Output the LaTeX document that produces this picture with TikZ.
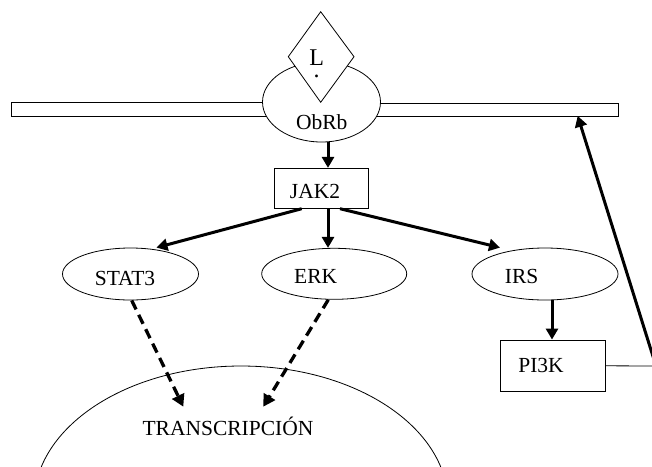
\documentclass[tikz,border=0pt]{standalone}
\usepackage{fontspec}
\setmainfont{Liberation Serif}
\usetikzlibrary{shapes.geometric,arrows.meta,calc}
\begin{document}
\begin{tikzpicture}[x=1pt,y=-1pt,
  thin line/.style={draw=black,line width=0.8pt},
  oval/.style={thin line,ellipse,fill=white,inner sep=0pt},
  boxnode/.style={thin line,rectangle,fill=white,inner sep=0pt},
  lbl/.style={font=\fontsize{21.5}{25}\selectfont,inner sep=0pt},
  arr/.style={line width=3pt,-{Triangle[length=11pt,width=12pt]}},
  darr/.style={line width=3.3pt,dash pattern=on 10pt off 6pt,-{Triangle[length=12pt,width=13pt]}}]
\useasboundingbox (0,0) rectangle (652,466);
\clip (0,0) rectangle (652,466);
% membrane
\node[boxnode,minimum width=289pt,minimum height=13.3pt] (membL) at (155.5,109.5) {};
\node[boxnode,minimum width=268pt,minimum height=13pt] (membR) at (484,109.5) {};
% receptor
\node[oval,minimum width=118pt,minimum height=80pt] (obrb) at (321.5,102) {};
\node[lbl] (obrbtxt) at (321.7,121.7) {ObRb};
% ligand
\draw[thin line,fill=white] (320.7,11.7) -- (354,56.7) -- (320.7,102.3) -- (288.3,56.7) -- cycle;
\node[inner sep=0pt,align=center,font=\fontsize{24}{12.5}\selectfont,anchor=base] (lig) at (316.7,77.5) {L\\.};
% JAK2
\node[boxnode,minimum width=94pt,minimum height=40pt] (jak) at (321.3,188.3) {};
\node[lbl] (jaktxt) at (315,191.7) {JAK2};
% ellipses
\node[oval,minimum width=136pt,minimum height=52pt] (stat) at (130.5,274) {};
\node[lbl] (stattxt) at (125,278.3) {STAT3};
\node[oval,minimum width=145pt,minimum height=51pt] (erk) at (334.2,273.8) {};
\node[lbl] (erktxt) at (315.7,276.7) {ERK};
\node[oval,minimum width=146pt,minimum height=52pt] (irs) at (545,274) {};
\node[lbl] (irstxt) at (521.7,276.7) {IRS};
% PI3K
\node[boxnode,minimum width=105.5pt,minimum height=51.7pt] (pik) at (552.7,365.8) {};
\node[lbl] (piktxt) at (541,365) {PI3K};
% nucleus
\draw[thin line] (241,503) ellipse [x radius=207, y radius=137];
\node[lbl] (trans) at (228,426) {TRANSCRIPCIÓN};
% arrows
\draw[arr] ([xshift=6.5pt]obrb.south) -- ([xshift=6.7pt]jak.north);
\draw[arr] ([xshift=6.7pt]jak.south) -- ([xshift=-6.2pt]erk.north);
\draw[arr] ([xshift=-19.6pt]jak.south) -- ([xshift=26pt]stat.north);
\draw[arr] ([xshift=18.7pt]jak.south) -- ([xshift=-45pt]irs.north);
\draw[arr] ([xshift=7pt]irs.south) -- ([xshift=-0.7pt]pik.north);
\coordinate (corner) at (656,366);
\draw[thin line] (pik.east) -- (corner);
\draw[arr] (corner) -- ([xshift=93.7pt,yshift=0.5pt]membR.south);
\draw[darr] ([xshift=1.2pt]stat.south) -- ($(trans.center)+(-44.7,-19.3)$);
\draw[darr] ([xshift=-5.9pt]erk.south) -- ($(trans.center)+(35.3,-19.3)$);
\end{tikzpicture}
\end{document}
